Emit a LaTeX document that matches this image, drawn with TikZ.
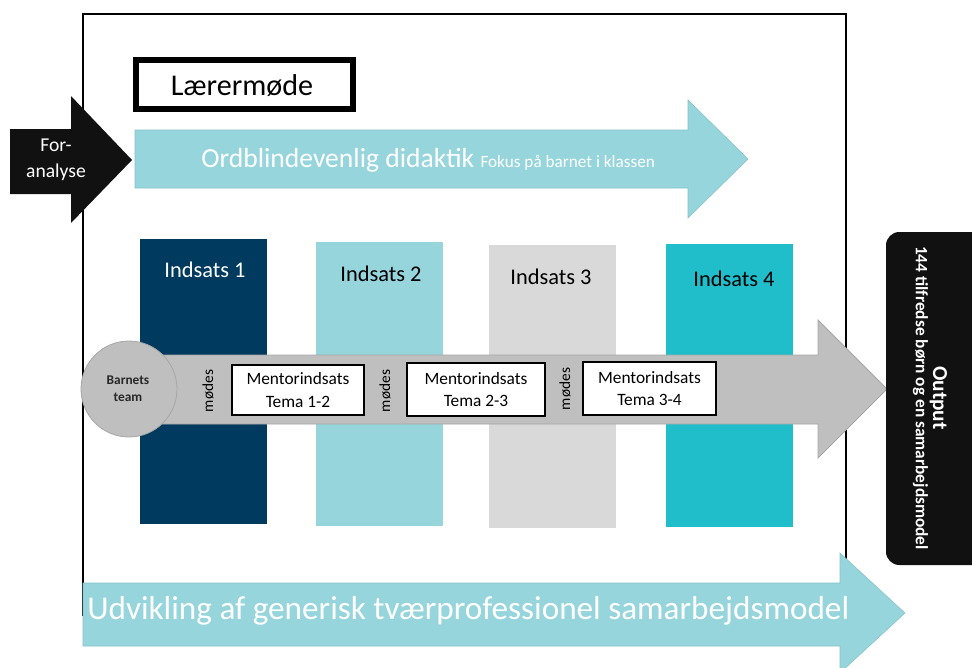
\documentclass[tikz,border=0pt]{standalone}
\usepackage{fontspec}
\setmainfont{Carlito}
\definecolor{navy}{HTML}{003A5F}
\definecolor{lblue}{HTML}{96D5DC}
\definecolor{lblueb}{HTML}{86C3CA}
\definecolor{lgrey}{HTML}{D9D9D9}
\definecolor{teal}{HTML}{1FBECA}
\definecolor{agrey}{HTML}{BFBFBF}
\definecolor{agreyb}{HTML}{A6A6A6}
\definecolor{offblack}{HTML}{111111}
\tikzset{
  col/.style={draw=none},
  coltext/.style={font=\fontsize{16.8}{19}\selectfont, anchor=center},
  mentor/.style={draw=black, fill=white, line width=0.8pt, align=center,
    font=\fontsize{13}{17}\selectfont, inner sep=0pt},
  moedes/.style={rotate=90, font=\fontsize{11.5}{13}\selectfont},
}
\begin{document}
\begin{tikzpicture}[x=0.75pt,y=-0.75pt]
\useasboundingbox (0,0) rectangle (972,668);
% outer frame
\draw[line width=2.2pt] (83,14) rectangle (846,615);
% Laerermoede
\draw[line width=4.5pt, fill=white] (136,60) rectangle (353,109);
\node[font=\fontsize{22.6}{25}\selectfont] (laerer) at (242,86) {Lærermøde};
% Foranalyse arrow
\fill[offblack] (10,129) -- (71,129) -- (71,96) -- (132,160) -- (71,223) -- (71,194) -- (10,194) -- cycle;
\node[text=white, align=center, font=\fontsize{14.7}{19.5}\selectfont] (foran) at (56,160) {For-\\analyse};
% top arrow
\filldraw[fill=lblue, draw=lblueb, line width=0.4pt] (135,130) -- (688,130) -- (688,100) -- (748,159) -- (688,218) -- (688,188) -- (135,188) -- cycle;
\node[text=white, anchor=west, inner sep=0pt] (ordbl) at (201,160) {\fontsize{20.7}{24}\selectfont Ordblindevenlig didaktik \fontsize{12.9}{14}\selectfont Fokus på barnet i klassen};
% columns
\fill[navy] (140,239) rectangle (267,524);
\fill[lblue] (316,242) rectangle (443,526);
\fill[lgrey] (489,245) rectangle (616,528);
\fill[teal] (666,244) rectangle (793,527);
\node[coltext, text=white] (ind1) at (205,270) {Indsats 1};
\node[coltext] (ind2) at (381,274) {Indsats 2};
\node[coltext] (ind3) at (551,277) {Indsats 3};
\node[coltext] (ind4) at (734,279) {Indsats 4};
% grey arrow
\filldraw[fill=agrey, draw=agreyb, line width=0.6pt] (127,355) -- (818,355) -- (818,320) -- (887,389) -- (818,458) -- (818,424) -- (127,424) -- cycle;
% circle
\filldraw[fill=agrey, draw=agreyb, line width=0.6pt] (129,389) circle[radius=48];
\node[align=center, font=\bfseries\fontsize{10}{13}\selectfont, text=black!85] (team) at (128,389) {Barnets\\team};
% mentor boxes
\node[mentor, minimum width=99pt, minimum height=37.5pt] (m1) at (298,390) {Mentorindsats\\Tema 1-2};
\node[mentor, minimum width=103.5pt, minimum height=39.75pt] (m2) at (476,389.5) {Mentorindsats\\Tema 2-3};
\node[mentor, minimum width=99.75pt, minimum height=39.75pt] (m3) at (649.5,388.5) {Mentorindsats\\Tema 3-4};
\node[moedes] (md1) at (208,391) {mødes};
\node[moedes] (md2) at (385,391) {mødes};
\node[moedes] (md3) at (565,389) {mødes};
% output box
\fill[offblack, rounded corners=10pt] (886,232) rectangle (990,565);
\node[rotate=-90, text=white, align=center, inner sep=0pt] (out) at (930,398)
  {{\bfseries\fontsize{16}{20}\selectfont Output}\\[1pt]{\bfseries\fontsize{13}{15}\selectfont 144 tilfredse børn og en samarbejdsmodel}};
% bottom arrow
\filldraw[fill=lblue, draw=lblueb, line width=0.4pt] (83,583) -- (840,583) -- (840,553) -- (905,613) -- (840,673) -- (840,646) -- (83,646) -- cycle;
\node[text=white, anchor=west, inner sep=0pt, font=\fontsize{24.9}{28}\selectfont] (udv) at (87,611) {Udvikling af generisk tværprofessionel samarbejdsmodel};
\end{tikzpicture}
\end{document}
